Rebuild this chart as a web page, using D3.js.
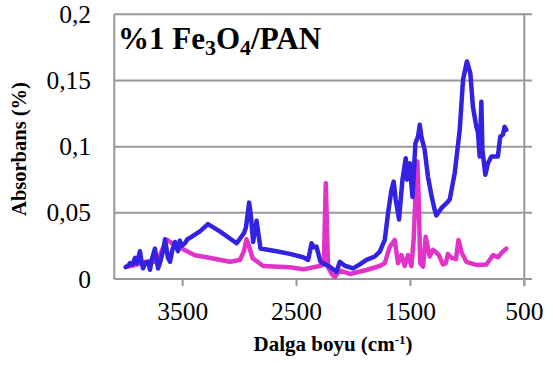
<!DOCTYPE html>
<html><head><meta charset="utf-8">
<script src="https://cdn.jsdelivr.net/npm/d3@7/dist/d3.min.js"></script>
<style>body{margin:0;background:#fff}svg{display:block}
text{font-family:"Liberation Serif","Times New Roman",serif;}
</style>
</head><body>
<svg id="c" width="553" height="365"></svg>
<script>
// wavenumber (cm-1), absorbance
const blueWave = [4000,3980,3962,3940,3918,3900,3875,3860,3848,3830,3804,3787,3770,3743,3730,3716,3700,3682,3665,3655,3640,3629,3611,3590,3567,3555,3541,3524,3510,3480,3460,3436,3348,3278,3173,3026,2962,2944,2916,2901,2881,2851,2816,2675,2559,2442,2398,2368,2348,2325,2290,2208,2149,2120,2076,2003,1945,1886,1813,1769,1725,1696,1667,1647,1629,1600,1570,1541,1530,1506,1482,1456,1433,1418,1404,1375,1346,1316,1287,1272,1228,1170,1155,1111,1067,1038,1004,974,951,921,907,892,877,868,842,819,789,732,711,688,673,658];
const blueAbs  = [0.009,0.010,0.012,0.011,0.016,0.012,0.021,0.013,0.008,0.012,0.013,0.007,0.015,0.023,0.015,0.008,0.012,0.018,0.024,0.030,0.022,0.016,0.013,0.022,0.028,0.024,0.021,0.029,0.025,0.027,0.030,0.031,0.036,0.0415,0.036,0.027,0.0346,0.039,0.0577,0.048,0.028,0.044,0.023,0.021,0.019,0.0164,0.0144,0.027,0.024,0.0245,0.013,0.0093,0.0055,0.013,0.010,0.008,0.011,0.0144,0.017,0.0207,0.0295,0.050,0.067,0.0736,0.060,0.045,0.075,0.0913,0.075,0.0875,0.062,0.1026,0.1076,0.1165,0.1076,0.0976,0.0774,0.0635,0.0522,0.048,0.0535,0.0585,0.060,0.080,0.1127,0.1505,0.1644,0.1556,0.130,0.115,0.111,0.0925,0.134,0.0976,0.0787,0.0875,0.0925,0.0925,0.1076,0.109,0.115,0.1127];
const pinkWave = [3991,3918,3831,3743,3699,3655,3632,3594,3509,3392,3289,3085,2997,2962,2939,2916,2886,2793,2559,2442,2296,2260,2243,2223,2191,2164,2120,2032,1886,1769,1725,1681,1638,1609,1579,1550,1521,1491,1471,1454,1439,1427,1414,1389,1366,1331,1302,1272,1250,1215,1190,1170,1140,1100,1078,1050,1009,921,833,775,732,688,658];
const pinkAbs  = [0.0093,0.0105,0.013,0.013,0.018,0.027,0.0295,0.027,0.023,0.018,0.0164,0.013,0.0144,0.021,0.030,0.0245,0.0157,0.0098,0.0089,0.0073,0.0098,0.011,0.0724,0.0089,0.0038,0.0017,0.0063,0.0038,0.0068,0.0098,0.012,0.0244,0.0295,0.012,0.018,0.0098,0.018,0.0098,0.030,0.067,0.0887,0.060,0.012,0.0093,0.032,0.017,0.022,0.020,0.018,0.011,0.012,0.019,0.016,0.015,0.0295,0.020,0.013,0.0106,0.011,0.018,0.0164,0.0207,0.023];
const xTicks = [3500,2500,1500,500];
const yTicks = [0,0.05,0.1,0.15,0.2];
const yTickLabels = ["0","0,05","0,1","0,15","0,2"];

const svg = d3.select("#c");
const x = d3.scaleLinear().domain([4100,500]).range([114.3,524.3]);
const y = d3.scaleLinear().domain([0,0.2]).range([279,14.3]);
const gridRight = 532;
const grey = "#989898";

svg.append("g").selectAll("line").data(yTicks).join("line")
  .attr("x1",x(4100)).attr("x2",gridRight)
  .attr("y1",d=>y(d)).attr("y2",d=>y(d))
  .attr("stroke",grey).attr("stroke-width",2);
svg.append("line").attr("x1",x(4100)).attr("x2",x(4100)).attr("y1",y(0.2)).attr("y2",y(0))
  .attr("stroke",grey).attr("stroke-width",2);
svg.append("line").attr("x1",x(500)).attr("x2",x(500)).attr("y1",y(0.2)-1).attr("y2",y(0)+7)
  .attr("stroke",grey).attr("stroke-width",2);
svg.append("g").selectAll("line").data(xTicks).join("line")
  .attr("x1",d=>x(d)).attr("x2",d=>x(d)).attr("y1",y(0)).attr("y2",y(0)+7)
  .attr("stroke",grey).attr("stroke-width",2);

svg.append("g").selectAll("text").data(xTicks).join("text")
  .attr("x",d=>x(d)).attr("y",320).attr("text-anchor","middle")
  .attr("font-size",25.5).text(d=>d);
svg.append("g").selectAll("text").data(yTicks).join("text")
  .attr("x",91).attr("y",d=>y(d)+8.5).attr("text-anchor","end")
  .attr("font-size",25.5).text((d,i)=>yTickLabels[i]);

const line = d3.line().x(d=>x(d[0])).y(d=>y(d[1]));
const pink = pinkWave.map((w,i)=>[w,pinkAbs[i]]);
const blue = blueWave.map((w,i)=>[w,blueAbs[i]]);
svg.append("path").datum(pink).attr("d",line).attr("fill","none")
  .attr("stroke","#e033c8").attr("stroke-width",4.5).attr("stroke-linejoin","round").attr("stroke-linecap","round");
svg.append("path").datum(blue).attr("d",line).attr("fill","none")
  .attr("stroke","#3322e2").attr("stroke-width",4.5).attr("stroke-linejoin","round").attr("stroke-linecap","round");

const t = svg.append("text").attr("x",118).attr("y",49)
  .attr("font-weight","bold").attr("font-size",31);
t.append("tspan").text("%1 Fe");
t.append("tspan").attr("font-size",22).attr("dy",6).text("3");
t.append("tspan").attr("dy",-6).text("O");
t.append("tspan").attr("font-size",22).attr("dy",6).text("4");
t.append("tspan").attr("dy",-6).text("/PAN");

const xt = svg.append("text").attr("x",333).attr("y",351).attr("text-anchor","middle")
  .attr("font-weight","bold").attr("font-size",21);
xt.append("tspan").text("Dalga boyu (cm");
xt.append("tspan").attr("font-size",13).attr("dy",-7).text("-1");
xt.append("tspan").attr("dy",7).text(")");

svg.append("text").attr("transform","translate(26,149) rotate(-90)").attr("text-anchor","middle")
  .attr("font-weight","bold").attr("font-size",20.5).text("Absorbans (%)");
</script>
</body></html>
